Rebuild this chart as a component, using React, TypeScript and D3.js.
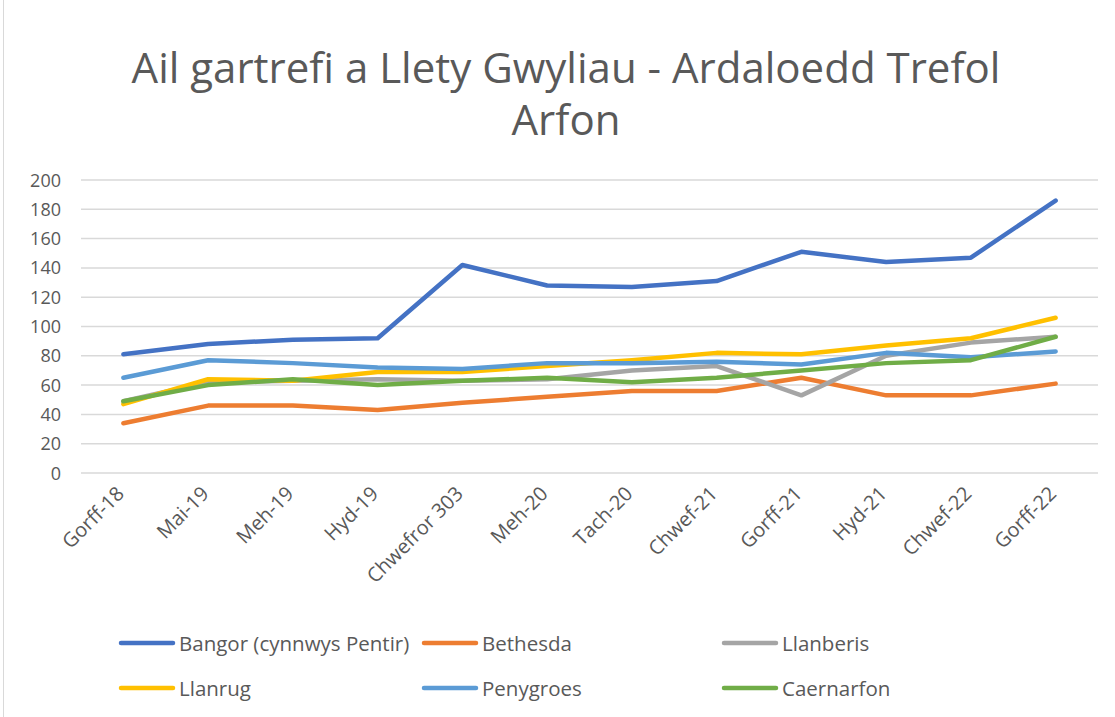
import React from "react";
import * as d3 from "d3";

const categories = ["Gorff-18", "Mai-19", "Meh-19", "Hyd-19", "Chwefror 303", "Meh-20", "Tach-20", "Chwef-21", "Gorff-21", "Hyd-21", "Chwef-22", "Gorff-22"];
const bangor = [81, 88, 91, 92, 142, 128, 127, 131, 151, 144, 147, 186];
const bethesda = [34, 46, 46, 43, 48, 52, 56, 56, 65, 53, 53, 61];
const llanberis = [49, 62, 63, 64, 63, 64, 70, 73, 53, 80, 89, 93];
const llanrug = [47, 64, 63, 69, 69, 73, 77, 82, 81, 87, 92, 106];
const penygroes = [65, 77, 75, 72, 71, 75, 75, 76, 74, 82, 79, 83];
const caernarfon = [49, 60, 64, 60, 63, 65, 62, 65, 70, 75, 77, 93];
const yTicks = [0, 20, 40, 60, 80, 100, 120, 140, 160, 180, 200];

const seriesNames = ["Bangor (cynnwys Pentir)", "Bethesda", "Llanberis", "Llanrug", "Penygroes", "Caernarfon"];
const seriesValues = [bangor, bethesda, llanberis, llanrug, penygroes, caernarfon];
const seriesColors = ["#4472C4", "#ED7D31", "#A5A5A5", "#FFC000", "#5B9BD5", "#70AD47"];

const W = 1115;
const H = 717;
const FONT = "'Open Sans', sans-serif";

export default function App() {
  const x = d3.scaleBand<string>().domain(categories).range([81, 1098]);
  const y = d3.scaleLinear().domain([0, 200]).range([473, 180]);
  const cx = (c: string) => (x(c) as number) + x.bandwidth() / 2;
  const line = d3
    .line<number>()
    .x((_, i) => cx(categories[i]))
    .y((d) => y(d));

  const legendPos = [
    [121, 643], [424, 643], [724, 643],
    [121, 688], [424, 688], [724, 688],
  ];

  return (
    <div style={{ position: "absolute", left: 0, top: 0 }}>
      <svg width={W} height={H} style={{ display: "block", background: "#fff" }}>
        <rect x={3.5} y={-2} width={W + 4} height={H + 4} fill="none" stroke="#d9d9d9" strokeWidth={1} />
        <text x={566} y={83} textAnchor="middle" fontFamily={FONT} fontSize={42} fill="#595959">
          Ail gartrefi a Llety Gwyliau - Ardaloedd Trefol
        </text>
        <text x={566} y={135} textAnchor="middle" fontFamily={FONT} fontSize={42} fill="#595959">
          Arfon
        </text>
        {yTicks.map((t) => (
          <g key={t}>
            <line x1={81} x2={1098} y1={y(t)} y2={y(t)} stroke="#d9d9d9" strokeWidth={1.5} />
            <text x={61} y={y(t) + 6.5} textAnchor="end" fontFamily={FONT} fontSize={18} fill="#595959">
              {t}
            </text>
          </g>
        ))}
        {categories.map((c) => (
          <text
            key={c}
            transform={`translate(${cx(c) + 2},${495}) rotate(-45)`}
            textAnchor="end"
            fontFamily={FONT}
            fontSize={20}
            fill="#595959"
          >
            {c}
          </text>
        ))}
        {seriesValues.map((vals, i) => (
          <path
            key={seriesNames[i]}
            d={line(vals) as string}
            fill="none"
            stroke={seriesColors[i]}
            strokeWidth={4.5}
            strokeLinecap="round"
            strokeLinejoin="round"
          />
        ))}
        {seriesNames.map((n, i) => {
          const [lx, ly] = legendPos[i];
          return (
            <g key={n}>
              <line x1={lx} x2={lx + 52} y1={ly} y2={ly} stroke={seriesColors[i]} strokeWidth={4.5} strokeLinecap="round" />
              <text x={lx + 58} y={ly + 7.5} fontFamily={FONT} fontSize={20.5} fill="#595959">
                {n}
              </text>
            </g>
          );
        })}
      </svg>
    </div>
  );
}
